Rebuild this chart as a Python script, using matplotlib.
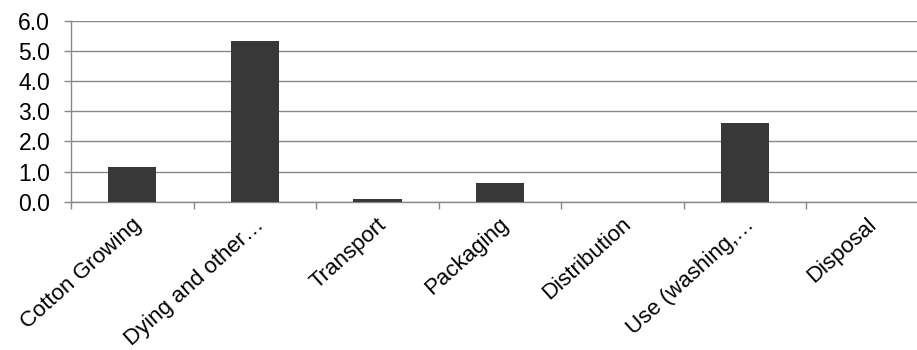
import matplotlib.pyplot as plt
import matplotlib.transforms as mtransforms
import numpy as np

categories = ['Cotton Growing', 'Dying and other\u2026', 'Transport', 'Packaging',
              'Distribution', 'Use (washing,\u2026', 'Disposal']
values = [1.16, 5.35, 0.09, 0.61, 0.0, 2.61, 0.0]
yticks = [0.0, 1.0, 2.0, 3.0, 4.0, 5.0, 6.0]

plt.rcParams['font.family'] = ['Liberation Sans', 'DejaVu Sans']

W, H = 917, 350
fig = plt.figure(figsize=(W / 100, H / 100), dpi=100)
# plot area runs a little past the right edge of the canvas
left, right, top, bottom = 71, 929, 21, 201.7
ax = fig.add_axes([left / W, 1 - bottom / H, (right - left) / W, (bottom - top) / H])

x = np.arange(len(categories))
ax.bar(x, values, width=0.395, color='#383838', zorder=3)

ax.set_xlim(-0.5, len(categories) - 0.5)
ax.set_ylim(0, 6)
ax.set_yticks(yticks)
ax.set_yticklabels([f'{v:.1f}' for v in yticks], fontsize=16.5)
ax.yaxis.grid(True, color='#888888', linewidth=1.0, zorder=0)

ax.set_xticks(x)
ax.set_xticklabels([])
ax.set_xticks(np.arange(len(categories) + 1) - 0.5, minor=True)
ax.tick_params(axis='x', which='major', length=0)
ax.tick_params(axis='x', which='minor', length=5, width=1.0, color='#888888')
ax.tick_params(axis='y', length=5, width=1.0, color='#888888', pad=10)

# slanted category labels hanging below the axis
label_tf = ax.get_xaxis_transform() + mtransforms.ScaledTranslation(6 / 100, -20 / 100, fig.dpi_scale_trans)
for xi, name in zip(x, categories):
    ax.text(xi, 0, name, transform=label_tf, rotation=42, rotation_mode='anchor',
            ha='right', va='center', fontsize=16)

for side in ['top', 'right']:
    ax.spines[side].set_visible(False)
for side in ['left', 'bottom']:
    ax.spines[side].set_color('#888888')
    ax.spines[side].set_linewidth(1.0)

fig.savefig('out.png', dpi=100)
